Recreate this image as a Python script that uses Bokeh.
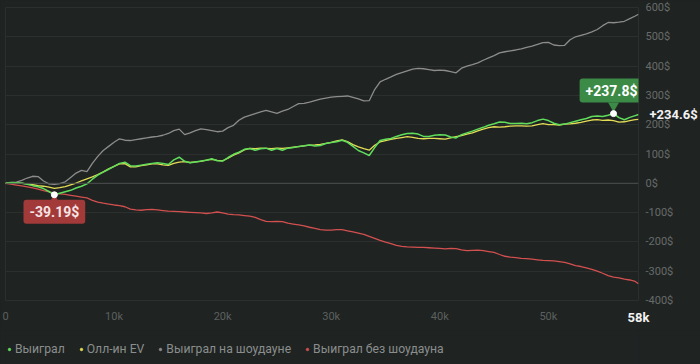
from bokeh.plotting import figure
from bokeh.layouts import column
from bokeh.models import Range1d, FixedTicker, Label, Legend, LegendItem, Span, LinearAxis
from bokeh.embed import file_html
from bokeh.resources import INLINE

# hands played (x), 500-hand steps, last point = total hands
hands = list(range(0, 58001, 500)) + [58300]

won = [0, 3, 2, 1, -3, -8, -12, -18, -28, -39.19,
       -34, -29, -24, -16, -10, -2, 14, 28, 38, 48,
       58, 68, 72, 60, 59, 62, 65, 68, 70, 68,
       64, 80, 89, 75, 70, 73, 76, 79, 84, 77,
       76, 88, 99, 106, 116, 119, 113, 118, 120, 113,
       119, 113, 120, 122, 126, 128, 131, 127, 129, 136,
       139, 142, 147, 140, 126, 112, 104, 95, 122, 146,
       150, 153, 160, 166, 170, 171, 168, 160, 160, 164,
       166, 165, 158, 155, 166, 172, 178, 185, 191, 198,
       203, 209, 208, 204, 204, 205, 203, 207, 214, 219,
       214, 205, 200, 202, 207, 212, 217, 221, 228, 230,
       228, 232, 237.8, 224, 217, 225, 231, 234.6]

allin_ev = [0, 2, 1, 0, -2, -5, -8, -10, -13, -17,
            -15, -11, -5, 1, 8, 15, 22, 30, 39, 49,
            58, 66, 67, 56, 56, 60, 63, 66, 66, 63,
            61, 68, 72, 74, 71, 73, 75, 79, 82, 78,
            77, 86, 96, 104, 114, 119, 118, 120, 119, 118,
            120, 119, 121, 123, 125, 128, 130, 131, 133, 136,
            140, 145, 148, 142, 132, 124, 118, 113, 130, 141,
            146, 150, 153, 156, 159, 157, 153, 152, 153, 153,
            152, 151, 155, 159, 163, 168, 172, 179, 185, 190,
            193, 192, 193, 195, 196, 196, 195, 196, 200, 204,
            200, 200, 199, 202, 203, 205, 208, 212, 216, 217,
            215, 216, 214, 209, 210, 214, 217, 218]

showdown = [0, 2, 4, 10, 18, 24, 23, 8, -2, -4,
            -1, 5, 20, 35, 44, 40, 68, 92, 112, 126,
            140, 152, 147, 146, 149, 152, 155, 158, 160, 164,
            170, 180, 185, 166, 172, 180, 186, 183, 180, 176,
            178, 190, 198, 215, 226, 232, 238, 244, 249, 244,
            239, 246, 252, 262, 272, 273, 277, 282, 287, 291,
            294, 296, 297, 298, 293, 288, 281, 282, 320, 346,
            355, 363, 372, 378, 384, 390, 392, 391, 388, 385,
            386, 385, 381, 377, 393, 400, 405, 411, 420, 428,
            436, 445, 449, 452, 455, 459, 464, 468, 474, 480,
            481, 472, 470, 471, 490, 500, 505, 510, 517, 525,
            538, 549, 548, 550, 553, 562, 571, 577]

non_showdown = [0, -3, -6, -9, -12, -16, -20, -25, -29, -33,
                -36, -38, -41, -44, -47, -50, -58, -64, -68, -71,
                -74, -76, -80, -88, -91, -92, -90, -89, -91, -93,
                -95, -96, -97, -98, -99, -100, -101, -103, -101, -98,
                -101, -105, -107, -108, -110, -112, -116, -124, -130, -131,
                -130, -131, -136, -139, -142, -145, -150, -154, -158, -160,
                -160, -158, -158, -162, -166, -170, -174, -181, -188, -195,
                -201, -206, -212, -215, -217, -218, -219, -219, -220, -221,
                -222, -224, -222, -223, -227, -230, -229, -228, -230, -233,
                -236, -243, -249, -252, -254, -256, -257, -259, -261, -263,
                -264, -265, -267, -270, -275, -281, -284, -289, -294, -300,
                -307, -315, -320, -323, -327, -330, -335, -343]

series_names = ["Выиграл", "Олл-ин EV", "Выиграл на шоудауне", "Выиграл без шоудауна"]
y_ticks = list(range(-400, 601, 100))
y_tick_labels = [f"{v}$" for v in y_ticks]
x_ticks = [0, 10000, 20000, 30000, 40000, 50000]
x_tick_labels = ["0", "10k", "20k", "30k", "40k", "50k"]
end_label = "58k"

BG = "#1f2322"
GRID = "#2b302f"
GREEN = "#60de5b"
YELLOW = "#e3dc55"
GREY = "#8c8c8c"
RED = "#d2504f"
TIP_GREEN = "#3b8a46"
TIP_RED = "#a33a3a"
FONT = "Roboto"

H, TOP, BOTTOM = 330, 7, 30
p = figure(width=700, height=H,
           x_range=Range1d(0, hands[-1]), y_range=Range1d(y_ticks[0], y_ticks[-1]),
           output_backend="svg", toolbar_location=None, y_axis_location="right",
           min_border_left=5, min_border_right=62, min_border_top=TOP, min_border_bottom=BOTTOM,
           background_fill_color=BG, border_fill_color=BG, outline_line_color=GRID)


def style_axis(ax, color, size, standoff, bold=False):
    ax.axis_line_color = None
    ax.major_tick_line_color = None
    ax.minor_tick_line_color = None
    ax.major_tick_out = 0
    ax.major_tick_in = 0
    ax.minor_tick_out = 0
    ax.major_label_text_color = color
    ax.major_label_text_font = FONT
    ax.major_label_text_font_size = size
    ax.major_label_standoff = standoff
    if bold:
        ax.major_label_text_font_style = "bold"


xa = p.xaxis[0]
xa.ticker = FixedTicker(ticks=x_ticks)
xa.major_label_overrides = dict(zip(x_ticks, x_tick_labels))
style_axis(xa, "#5c605f", "11px", 9)

ya = p.yaxis[0]
ya.ticker = FixedTicker(ticks=y_ticks)
ya.major_label_overrides = dict(zip(y_ticks, y_tick_labels))
style_axis(ya, "#676b6a", "11px", 7)

# highlighted end-of-range tick (overlaps the first x axis row)
end_axis = LinearAxis(ticker=FixedTicker(ticks=[hands[-1]]),
                      major_label_overrides={hands[-1]: end_label})
style_axis(end_axis, "#f2f2f2", "13px", -16, bold=True)
p.add_layout(end_axis, "below")

# current value tick on the right (overlaps the y axis column)
val_axis = LinearAxis(ticker=FixedTicker(ticks=[won[-1]]),
                      major_label_overrides={won[-1]: f"+{won[-1]:.1f}$"})
style_axis(val_axis, "#f2f2f2", "13px", -27, bold=True)
p.add_layout(val_axis, "right")

p.xgrid.grid_line_color = None
p.ygrid.ticker = FixedTicker(ticks=y_ticks)
p.ygrid.grid_line_color = GRID
p.add_layout(Span(location=0, dimension="width", line_color="#4a4f4e", line_width=1))

# series
p.line(hands, showdown, line_color=GREY, line_width=1.3)
p.line(hands, non_showdown, line_color=RED, line_width=1.3)
p.line(hands, allin_ev, line_color=YELLOW, line_width=1.3)
p.line(hands, won, line_color=GREEN, line_width=1.5)

# markers / tooltips
i_max = won.index(max(won))
i_min = won.index(min(won))
per_px = (y_ticks[-1] - y_ticks[0]) / (H - TOP - BOTTOM)

p.scatter([hands[i_max]], [won[i_max] + 8 * per_px], marker="inverted_triangle",
          size=11, fill_color=TIP_GREEN, line_color=None)
p.scatter([hands[i_min]], [won[i_min] - 5 * per_px], marker="triangle",
          size=10, fill_color=TIP_RED, line_color=None)

p.add_layout(Label(x=hands[i_max], y=won[i_max], text=f"+{won[i_max]:.1f}$",
                   text_align="center", text_baseline="middle", x_offset=-2, y_offset=23,
                   text_color="white", text_font=FONT, text_font_style="bold",
                   text_font_size="14px", background_fill_color=TIP_GREEN,
                   background_fill_alpha=1,
                   padding=dict(left=6, right=6, top=4, bottom=4), border_radius=3))
p.add_layout(Label(x=hands[i_min], y=won[i_min], text=f"{won[i_min]:.2f}$",
                   text_align="center", text_baseline="middle", y_offset=-17,
                   text_color="#f6e3e3", text_font=FONT, text_font_style="bold",
                   text_font_size="14px", background_fill_color=TIP_RED,
                   background_fill_alpha=1,
                   padding=dict(left=6, right=6, top=4, bottom=4), border_radius=3))

p.scatter([hands[i_max], hands[i_min]], [won[i_max], won[i_min]], size=6,
          fill_color="white", line_color="white")

# legend strip (separate figure below the chart)
lg = figure(width=700, height=364 - H, x_range=Range1d(1, 2), y_range=Range1d(1, 2),
            output_backend="svg", toolbar_location=None,
            x_axis_location=None, y_axis_location=None,
            min_border_left=0, min_border_right=0, min_border_top=0, min_border_bottom=0,
            background_fill_color=BG, border_fill_color=BG, outline_line_color=None)
lg.xgrid.grid_line_color = None
lg.ygrid.grid_line_color = None
items = []
for name, c in zip(series_names, [GREEN, YELLOW, GREY, RED]):
    r = lg.scatter(x=[hands[0]], y=[won[0]], marker="circle", size=5,
                   fill_color=c, line_color=c)
    items.append(LegendItem(label=name, renderers=[r]))
legend = Legend(items=items, orientation="horizontal", location=(1, 8),
                margin=0, padding=0, spacing=13, label_standoff=3,
                glyph_width=6, glyph_height=14, label_height=14,
                label_text_font=FONT, label_text_font_size="12.2px",
                label_text_color="#8a8e8d", background_fill_alpha=0, border_line_alpha=0)
lg.add_layout(legend)

layout = column(p, lg, spacing=0)
html = file_html(layout, INLINE)
html = html.replace("</head>", "<style>html,body{background:#1f2322;}</style></head>", 1)
open("out.html", "w").write(html)
